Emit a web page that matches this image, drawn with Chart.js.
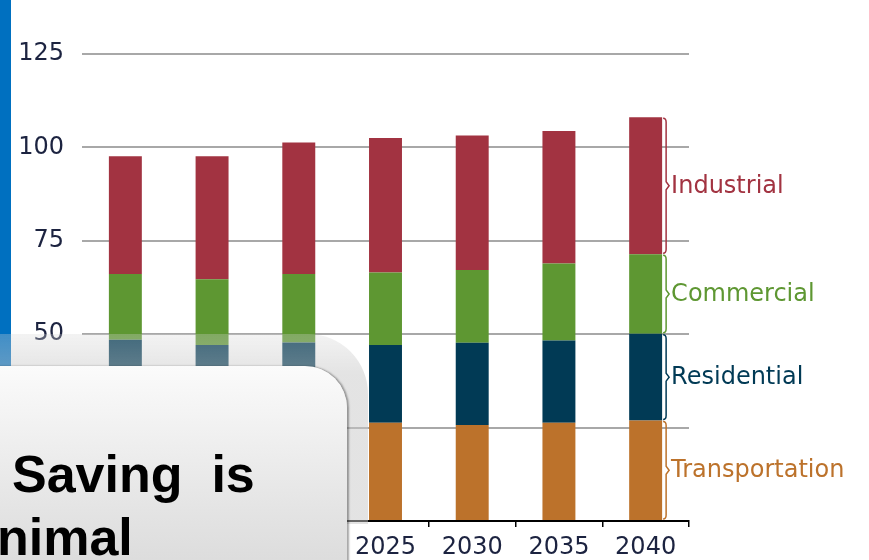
<!DOCTYPE html>
<html>
<head>
<meta charset="utf-8">
<script src="https://cdn.jsdelivr.net/npm/chart.js@4.4.1/dist/chart.umd.min.js"></script>
<style>
  html, body { margin: 0; padding: 0; background: #fff; }
  #wrap { position: relative; width: 869px; height: 560px; overflow: hidden; }
  #chart { position: absolute; left: 0; top: 0; }
  #sideBar { position: absolute; left: 0; top: 0; width: 11px; height: 370px; background: #0070c0; }
  #haze { position: absolute; left: -30px; top: 334px; width: 398px; height: 190px;
          background: linear-gradient(rgba(215,215,215,0.30), rgba(200,200,200,0.5) 40px);
          border-top-right-radius: 60px; }
  #box { position: absolute; left: -30px; top: 366px; width: 377px; height: 240px;
         background: linear-gradient(#fbfbfb, #e4e4e4 60%, #d6d6d6);
         border-top-right-radius: 42px; box-shadow: 2px 0 2px rgba(0,0,0,0.35); }
  .big { position: absolute; font-family: "Liberation Sans", Arial, sans-serif; font-weight: bold;
         font-size: 52px; color: #000; white-space: pre; line-height: 1; }
</style>
</head>
<body>
<div id="wrap">
  <canvas id="chart" width="869" height="560"></canvas>
  <div id="sideBar"></div>
  <div id="haze"></div>
  <div id="box"></div>
  <div class="big" style="left:12px; top:448px;">Saving  is</div>
  <div class="big" style="left:-3px; top:511px;">nimal</div>
</div>
<script>
// years on the x axis (first three sit behind the text box)
const years = ['2010', '2015', '2020', '2025', '2030', '2035', '2040'];

// stacked segments, bottom to top
const transportation = [27.0, 26.5, 26.3, 26.3, 25.7, 26.3, 26.9];
const residential    = [21.5, 20.6, 21.5, 20.8, 22.0, 22.0, 23.2];
const commercial     = [17.6, 17.6, 18.3, 19.4, 19.5, 20.6, 21.3];
const industrial     = [31.5, 32.9, 35.2, 36.0, 36.0, 35.5, 36.7];

const seriesNames = ['Transportation', 'Residential', 'Commercial', 'Industrial'];
const seriesColors = ['#bc722b', '#013a55', '#5e9732', '#a23341'];

const yTicks = [0, 25, 50, 75, 100, 125];

const tickFont = { family: 'DejaVu Sans', size: 24 };

// draws the curly brackets and sector names beside the last bar
const sectorLabels = {
    id: 'sectorLabels',
    afterDatasetsDraw(chart) {
        const ctx = chart.ctx;
        const last = years.length - 1;
        ctx.save();
        chart.data.datasets.forEach((ds, i) => {
            const bar = chart.getDatasetMeta(i).data[last];
            const top = Math.min(bar.y, bar.base);
            const bottom = Math.max(bar.y, bar.base);
            const mid = (top + bottom) / 2;
            const x0 = bar.x + bar.width / 2 + 1;
            ctx.strokeStyle = ds.backgroundColor;
            ctx.lineWidth = 1.5;
            ctx.beginPath();
            ctx.moveTo(x0, top + 1);
            ctx.quadraticCurveTo(x0 + 3, top + 1, x0 + 3, top + 5);
            ctx.lineTo(x0 + 3, mid - 4);
            ctx.lineTo(x0 + 6, mid);
            ctx.lineTo(x0 + 3, mid + 4);
            ctx.lineTo(x0 + 3, bottom - 5);
            ctx.quadraticCurveTo(x0 + 3, bottom - 1, x0, bottom - 1);
            ctx.stroke();
            ctx.fillStyle = ds.backgroundColor;
            ctx.font = '24px "DejaVu Sans"';
            ctx.textBaseline = 'middle';
            ctx.textAlign = 'left';
            ctx.fillText(ds.label, x0 + 8, mid + 1);
        });
        ctx.restore();
    }
};

const datasets = [transportation, residential, commercial, industrial].map((values, i) => ({
    label: seriesNames[i],
    data: values,
    backgroundColor: seriesColors[i],
    borderWidth: 0,
    barPercentage: 0.38,
    categoryPercentage: 1.0
}));

new Chart(document.getElementById('chart'), {
    type: 'bar',
    data: { labels: years, datasets: datasets },
    options: {
        responsive: false,
        animation: false,
        layout: { padding: { top: 54, right: 180, left: 0, bottom: 0 } },
        plugins: { legend: { display: false }, tooltip: { enabled: false } },
        scales: {
            x: {
                stacked: true,
                afterFit: (s) => { s.height = 39; },
                grid: { display: true, offset: true, drawOnChartArea: false, tickLength: 6, color: '#000', lineWidth: 1.5 },
                border: { display: true, color: '#000', width: 2 },
                ticks: { color: '#1c2340', font: tickFont, padding: 6 }
            },
            y: {
                stacked: true,
                min: 0,
                max: 125,
                afterFit: (s) => { s.width = 82; },
                afterBuildTicks: (s) => { s.ticks = yTicks.map(v => ({ value: v })); },
                grid: { color: '#a8a8a8', lineWidth: 2, drawTicks: false },
                border: { display: false },
                ticks: { color: '#1c2340', font: tickFont, padding: 18 }
            }
        }
    },
    plugins: [sectorLabels]
});
</script>
</body>
</html>
